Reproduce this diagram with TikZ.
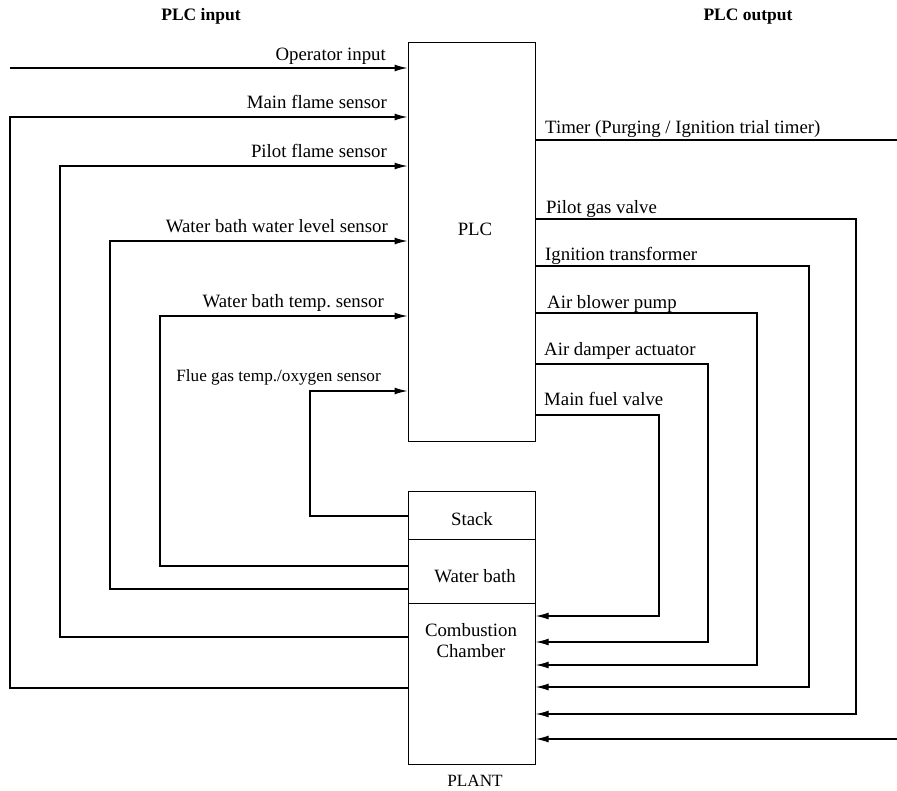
\documentclass[tikz,border=0pt]{standalone}
\usepackage{fontspec}
\setmainfont{Liberation Serif}
\usetikzlibrary{arrows.meta}
\frenchspacing

\begin{document}
\begin{tikzpicture}[x=1pt,y=-1pt,
  wire/.style={line width=1.2pt,line join=miter},
  sig/.style={wire,-{Latex[length=13pt,width=7pt]}},
  block/.style={draw,line width=1.2pt,inner sep=0pt,anchor=north west,minimum width=127pt},
  txt/.style={font=\fontsize{18.8}{21}\selectfont,inner sep=0pt},
  small/.style={font=\fontsize{17.2}{21}\selectfont,inner sep=0pt},
  head/.style={font=\fontsize{17.5}{21}\selectfont\bfseries,inner sep=0pt},
  inlbl/.style={txt,anchor=base east},
  outlbl/.style={txt,anchor=base west}]
\useasboundingbox (0,0) rectangle (897,790);

% column headings
\node[head,anchor=base] (hin)  at (201,20) {PLC input};
\node[head,anchor=base] (hout) at (748,20) {PLC output};

% controller
\node[block,minimum height=399pt] (plc) at (407.5,42) {};
\node[txt,anchor=base] (plctxt) at (475,235) {PLC};

% plant: stack, water bath, combustion chamber
\node[block,minimum height=48pt]  (stack)   at (407.5,491) {};
\node[block,minimum height=64pt]  (bath)    at (407.5,539) {};
\node[block,minimum height=161pt] (chamber) at (407.5,603) {};
\node[txt,anchor=base] (stacktxt) at (472,525) {Stack};
\node[txt,anchor=base] (bathtxt)  at (475,582) {Water bath};
\node[txt,anchor=base,align=center] (chambertxt) at (471,657) {Combustion\\Chamber};
\node[small,anchor=base] (planttxt) at (475,786) {PLANT};

% ---------- inputs ----------
\coordinate (opIn) at (10,68);
\draw[sig] (opIn) -- (plc.west |- opIn);
\node[inlbl] (opL) at (386,60) {Operator input};

\coordinate (mfB) at (10,688);  \coordinate (mfT) at (10,117);
\draw[sig] (chamber.west |- mfB) -- (mfB) -- (mfT) -- (plc.west |- mfT);
\node[inlbl] (mfL) at (387,108) {Main flame sensor};

\coordinate (pfB) at (60,637);  \coordinate (pfT) at (60,166);
\draw[sig] (chamber.west |- pfB) -- (pfB) -- (pfT) -- (plc.west |- pfT);
\node[inlbl] (pfL) at (387,157) {Pilot flame sensor};

\coordinate (wlB) at (110,589); \coordinate (wlT) at (110,241);
\draw[sig] (bath.west |- wlB) -- (wlB) -- (wlT) -- (plc.west |- wlT);
\node[inlbl] (wlL) at (388,232) {Water bath water level sensor};

\coordinate (wtB) at (160,566); \coordinate (wtT) at (160,316);
\draw[sig] (bath.west |- wtB) -- (wtB) -- (wtT) -- (plc.west |- wtT);
\node[inlbl] (wtL) at (384,307) {Water bath temp. sensor};

\coordinate (fgB) at (310,516); \coordinate (fgT) at (310,391);
\draw[sig] (stack.west |- fgB) -- (fgB) -- (fgT) -- (plc.west |- fgT);
\node[small,anchor=base east] (fgL) at (381,381) {Flue gas temp./oxygen sensor};

% ---------- outputs ----------
\coordinate (tmR) at (897,140);
\draw[wire] (plc.east |- tmR) -- (tmR);
\node[outlbl] (tmL) at (545,133) {Timer (Purging / Ignition trial timer)};

\coordinate (pgT) at (856,219); \coordinate (pgB) at (856,714);
\draw[sig] (plc.east |- pgT) -- (pgT) -- (pgB) -- (chamber.east |- pgB);
\node[outlbl] (pgL) at (546,213) {Pilot gas valve};

\coordinate (itT) at (809,266); \coordinate (itB) at (809,687);
\draw[sig] (plc.east |- itT) -- (itT) -- (itB) -- (chamber.east |- itB);
\node[outlbl] (itL) at (545,260) {Ignition transformer};

\coordinate (abT) at (757,313); \coordinate (abB) at (757,665);
\draw[sig] (plc.east |- abT) -- (abT) -- (abB) -- (chamber.east |- abB);
\node[outlbl] (abL) at (547,308) {Air blower pump};

\coordinate (adT) at (708,364); \coordinate (adB) at (708,642);
\draw[sig] (plc.east |- adT) -- (adT) -- (adB) -- (chamber.east |- adB);
\node[outlbl] (adL) at (544,355) {Air damper actuator};

\coordinate (mvT) at (659,415); \coordinate (mvB) at (659,616);
\draw[sig] (plc.east |- mvT) -- (mvT) -- (mvB) -- (chamber.east |- mvB);
\node[outlbl] (mvL) at (544,405) {Main fuel valve};

\coordinate (exIn) at (897,739);
\draw[sig] (exIn) -- (chamber.east |- exIn);
\end{tikzpicture}
\end{document}
